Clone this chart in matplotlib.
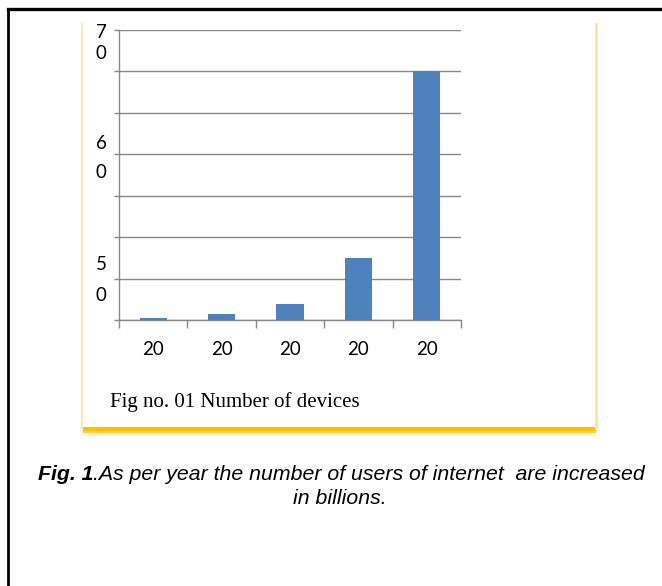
import matplotlib
matplotlib.use('Agg')
import matplotlib.pyplot as plt
from matplotlib.patches import Rectangle
from matplotlib.lines import Line2D

# data (axis units: one gridline = 10)
years = ['20', '20', '20', '20', '20']
devices = [0.4, 1.5, 3.9, 15, 60]
y_grid = [0, 10, 20, 30, 40, 50, 60, 70]
# the y labels are broken into single digits in the original
y_digits = [('7', 69.3), ('0', 64.4), ('6', 42.7), ('0', 35.5), ('5', 13.5), ('0', 6.0)]

chart_title = 'Fig no. 01 Number of devices'
cap_bold = 'Fig. 1'
cap_rest = '.As per year the number of users of internet  are increased'
cap_line2 = 'in billions.'

W, H = 662, 586
fig = plt.figure(figsize=(W / 100, H / 100), dpi=100)


def fx(x):
    return x / W


def fy(y):
    return 1 - y / H


# outer page frame (black, right and bottom edges are cut off)
fig.add_artist(Line2D([fx(8), 1.0], [fy(9), fy(9)], color='black', lw=2.4,
                      transform=fig.transFigure))
fig.add_artist(Line2D([fx(8), fx(8)], [fy(9), 0.0], color='black', lw=2.0,
                      transform=fig.transFigure))

# inner chart box with yellow shadow
fig.add_artist(Line2D([fx(82), fx(82)], [fy(24), fy(428)], color='#fde9b8', lw=1.6,
                      transform=fig.transFigure))
fig.add_artist(Line2D([fx(596), fx(596)], [fy(24), fy(428)], color='#fde2a0', lw=2.0,
                      transform=fig.transFigure))
for y0, y1, c in [(427, 431, '#ffc000'), (431, 433, '#ffd24a'), (433, 435, '#fff0c8')]:
    fig.add_artist(Rectangle((fx(83), fy(y1)), fx(596) - fx(83), fy(y0) - fy(y1),
                             facecolor=c, edgecolor='none', transform=fig.transFigure))

ax = fig.add_axes([fx(119), fy(320), fx(461) - fx(119), fy(30) - fy(320)])
x = list(range(len(years)))
ax.bar(x, devices, width=0.4, color='#4f81bd', zorder=3)
ax.set_xlim(-0.5, len(years) - 0.5)
ax.set_ylim(0, 70)

grey = '#888888'
ax.set_yticks(y_grid)
ax.set_yticklabels([])
ax.yaxis.grid(True, color=grey, lw=1.0)
ax.set_axisbelow(True)
ax.tick_params(axis='y', length=3.5, width=1.0, color=grey)

ax.set_xticks(x)
ax.set_xticklabels(years, fontsize=13.5, family='Lato')
ax.set_xticks([i - 0.5 for i in range(len(years) + 1)], minor=True)
ax.tick_params(axis='x', which='major', length=0, pad=15)
ax.tick_params(axis='x', which='minor', length=5.5, width=1.0, color=grey)

for side in ['top', 'right']:
    ax.spines[side].set_visible(False)
for side in ['left', 'bottom']:
    ax.spines[side].set_color(grey)
    ax.spines[side].set_linewidth(1.0)

for d, v in y_digits:
    ax.text(-0.0526, v, d, transform=ax.get_yaxis_transform(), ha='center',
            va='center', fontsize=13.5, family='Lato')

fig.text(fx(110), fy(402), chart_title, ha='left', va='center',
         fontsize=15, family='Liberation Serif')

# caption below the box, first line centred as a whole
cap_size = 15.3
t1 = fig.text(0, fy(474), cap_bold, ha='left', va='center', fontsize=cap_size,
              family='Liberation Sans', style='italic', weight='bold')
t2 = fig.text(0, fy(474), cap_rest, ha='left', va='center', fontsize=cap_size,
              family='Liberation Sans', style='italic')
fig.canvas.draw()
w1 = t1.get_window_extent().width
w2 = t2.get_window_extent().width
left = 341.5 - (w1 + w2) / 2
t1.set_x(left / W)
t2.set_x((left + w1) / W)
fig.text(fx(340), fy(498), cap_line2, ha='center', va='center', fontsize=cap_size,
         family='Liberation Sans', style='italic')

fig.savefig('out.png', dpi=100)
